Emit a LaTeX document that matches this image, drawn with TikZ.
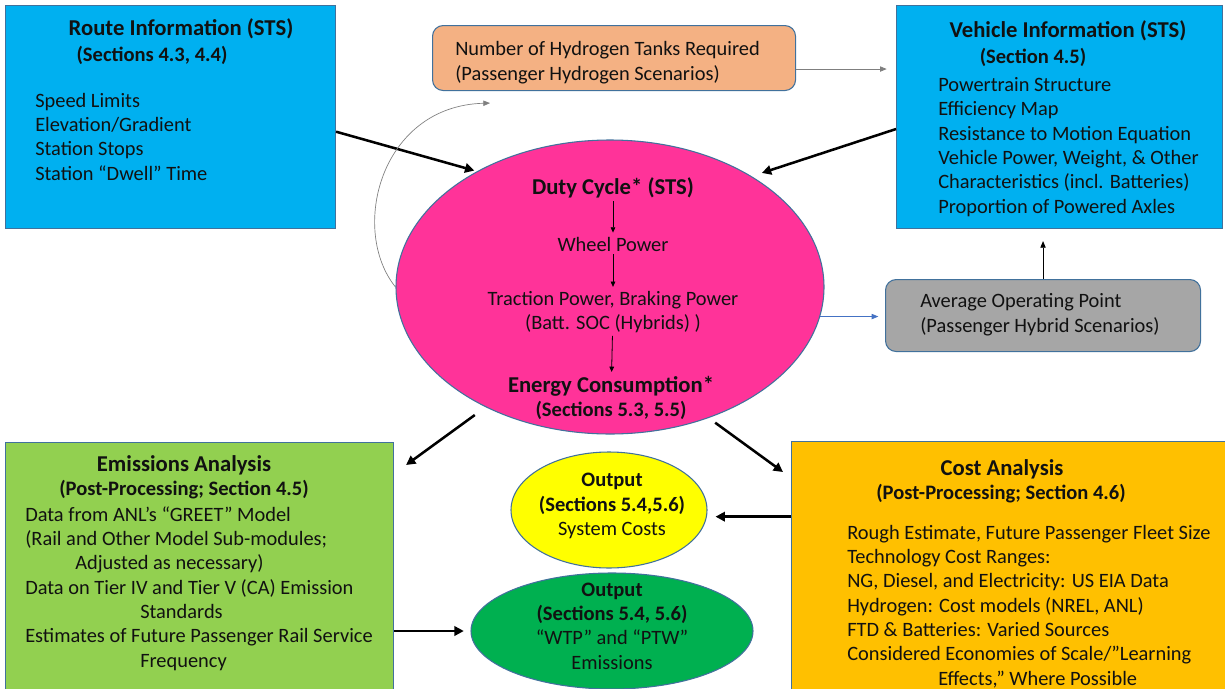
\documentclass[tikz,border=0pt]{standalone}
\usepackage{fontspec}
\setmainfont{Carlito}
\usetikzlibrary{arrows.meta,calc,positioning,shapes.geometric}
\definecolor{ink}{HTML}{111111}
\definecolor{edge}{HTML}{41719C}
\definecolor{sky}{HTML}{00B0F0}
\definecolor{peach}{HTML}{F4B183}
\definecolor{stone}{HTML}{A6A6A6}
\definecolor{rose}{HTML}{FF3399}
\definecolor{lime}{HTML}{92D050}
\definecolor{amber}{HTML}{FFC000}
\definecolor{lemon}{HTML}{FFFF00}
\definecolor{leaf}{HTML}{00B050}
\definecolor{linkblue}{HTML}{4472C4}
\definecolor{wire}{HTML}{7F7F7F}
\newlength{\pxu}\setlength{\pxu}{0.75pt}
\newcommand{\bodyfont}{\fontsize{15.3}{18.2}\selectfont}
\newcommand{\headfont}{\fontsize{17}{18.2}\selectfont\bfseries}
\newcommand{\subfont}{\fontsize{15.4}{18.2}\selectfont\bfseries}
\tikzset{
  panel/.style={draw=edge,line width=0.8pt,anchor=north west,inner sep=0pt},
  infobox/.style={panel,fill=sky},
  notebox/.style={panel,rounded corners=8pt},
  blob/.style={ellipse,draw=edge,line width=0.8pt,inner sep=0pt},
  txt/.style={inner sep=0pt,text=ink,font=\bodyfont,align=left},
  head/.style={inner sep=0pt,text=ink,font=\headfont,align=center},
  subhead/.style={inner sep=0pt,text=ink,font=\subfont,align=center},
  bigflow/.style={-{Triangle[length=7pt,width=7pt]},line width=1.9pt,draw=black},
  thinflow/.style={-{Triangle[length=5pt,width=4pt]},line width=0.6pt,draw=black},
  greyflow/.style={thinflow,draw=wire},
  blueflow/.style={thinflow,draw=linkblue},
  curveflow/.style={-{Triangle[length=5pt,width=4pt]},line width=0.5pt,draw=wire},
  stepflow/.style={-{Triangle[length=4pt,width=3.5pt]},line width=0.6pt,draw=black,shorten <=2pt,shorten >=3pt}
}
\begin{document}
\begin{tikzpicture}[x=0.75pt,y=-0.75pt]
  \clip (0,0) rectangle (1225,689);
  \fill[white] (0,0) rectangle (1225,689);
  % input boxes
  \node[infobox,minimum width=330\pxu,minimum height=223\pxu] (route) at (5,5) {};
  \node[head] (routehead) at (181,29) {Route Information (STS)};
  \node[subhead] (routesec) at (152,55) {(Sections 4.3, 4.4)};
  \node[txt,anchor=base west] (routelist) at (35,180) {Speed Limits\\Elevation/Gradient\\Station Stops\\Station “Dwell” Time};
  \node[infobox,minimum width=326\pxu,minimum height=223\pxu] (vehicle) at (896,5) {};
  \node[head] (vehhead) at (1068,31) {Vehicle Information (STS)};
  \node[subhead] (vehsec) at (1033,57) {(Section 4.5)};
  \node[txt,anchor=base west] (vehlist) at (938,213) {Powertrain Structure\\Efficiency Map\\Resistance to Motion Equation\\Vehicle Power, Weight, \& Other\\Characteristics (incl. Batteries)\\Proportion of Powered Axles};
  \node[notebox,fill=peach,minimum width=363\pxu,minimum height=65\pxu] (tanks) at (432,25) {};
  \node[txt,anchor=base west] (tankstext) at (455,80) {Number of Hydrogen Tanks Required\\(Passenger Hydrogen Scenarios)};
  \node[notebox,fill=stone,minimum width=315\pxu,minimum height=72\pxu] (avgop) at (885,279) {};
  \node[txt,anchor=base west] (avgoptext) at (920,332) {Average Operating Point\\(Passenger Hybrid Scenarios)};
  % duty cycle
  \node[blob,fill=rose,minimum width=428\pxu,minimum height=294\pxu] (duty) at (610,287) {};
  \node[head] (dc) at (613,188) {Duty Cycle* (STS)};
  \node[txt,align=center] (wp) at (613,244) {Wheel Power};
  \node[txt,align=center] (tp) at (613,312) {Traction Power, Braking Power\\(Batt. SOC (Hybrids) )};
  \node[head] (ec) at (611,398) {Energy Consumption*\\\subfont(Sections 5.3, 5.5)};
  \draw[stepflow] (dc) -- (wp);
  \draw[stepflow] (wp) -- (tp);
  \draw[stepflow] (tp) -- (ec);
  % post-processing
  \node[panel,fill=lime,minimum width=388\pxu,minimum height=260\pxu] (emis) at (5,442) {};
  \node[head] (emishead) at (184,465) {Emissions Analysis};
  \node[subhead] (emissec) at (184,490) {(Post-Processing; Section 4.5)};
  \node[txt,anchor=base west] (emislist) at (25,667) {Data from ANL’s “GREET” Model\\(Rail and Other Model Sub-modules;\\\hspace*{50\pxu}Adjusted as necessary)\\Data on Tier IV and Tier V (CA) Emission\\\hspace*{115\pxu}Standards\\Estimates of Future Passenger Rail Service\\\hspace*{115\pxu}Frequency};
  \node[panel,fill=amber,minimum width=440\pxu,minimum height=260\pxu] (cost) at (791,441) {};
  \node[head] (costhead) at (1002,469) {Cost Analysis};
  \node[subhead] (costsec) at (1001,494) {(Post-Processing; Section 4.6)};
  \node[txt,anchor=base west] (costlist) at (847,685) {Rough Estimate, Future Passenger Fleet Size\\Technology Cost Ranges:\\NG, Diesel, and Electricity: US EIA Data\\Hydrogen: Cost models (NREL, ANL)\\FTD \& Batteries: Varied Sources\\Considered Economies of Scale/”Learning\\\hspace*{91\pxu}Effects,” Where Possible};
  % outputs
  \node[blob,fill=lemon,minimum width=196\pxu,minimum height=116\pxu] (outcost) at (609,510) {};
  \node[txt,align=center] (octext) at (612,506) {\subfont Output\\\subfont(Sections 5.4,5.6)\\System Costs};
  \node[blob,fill=leaf,minimum width=282\pxu,minimum height=116\pxu] (outemis) at (612,631) {};
  \node[txt,align=center] (oetext) at (612,626) {\subfont Output\\\subfont(Sections 5.4, 5.6)\\“WTP” and “PTW”\\Emissions};
  % connectors
  \draw[bigflow,shorten >=2pt] ([yshift=-11pt]route.east) -- (duty.139);
  \draw[bigflow,shorten >=8pt] ([yshift=-9pt]vehicle.west) -- (duty.38);
  \draw[bigflow,shorten <=10pt] (duty.224) -- ($(emis.north east)+(12,23)$);
  \draw[bigflow,shorten <=6pt] (duty.-53) -- ($(cost.north west)+(-8,31)$);
  \draw[bigflow,shorten >=6pt] ([yshift=-5pt]outcost.east -| cost.west) -- ([yshift=-5pt]outcost.east);
  \draw[bigflow,shorten >=5pt] (outemis.west -| emis.east) -- (outemis.west);
  \draw[greyflow,shorten >=7pt] ([yshift=-8.25pt]tanks.east) -- ([yshift=-8.25pt]tanks.east -| vehicle.west);
  \draw[blueflow,shorten >=5pt] (duty.-8) -- (duty.-8 -| avgop.west);
  \draw[thinflow,shorten >=9pt] (avgop.north) -- (avgop.north |- vehicle.south);
  \draw[curveflow] (duty.180) .. controls +(-46,-57) and +(-110,3) .. ($(tanks.south west)+(58,12)$);
\end{tikzpicture}
\end{document}
